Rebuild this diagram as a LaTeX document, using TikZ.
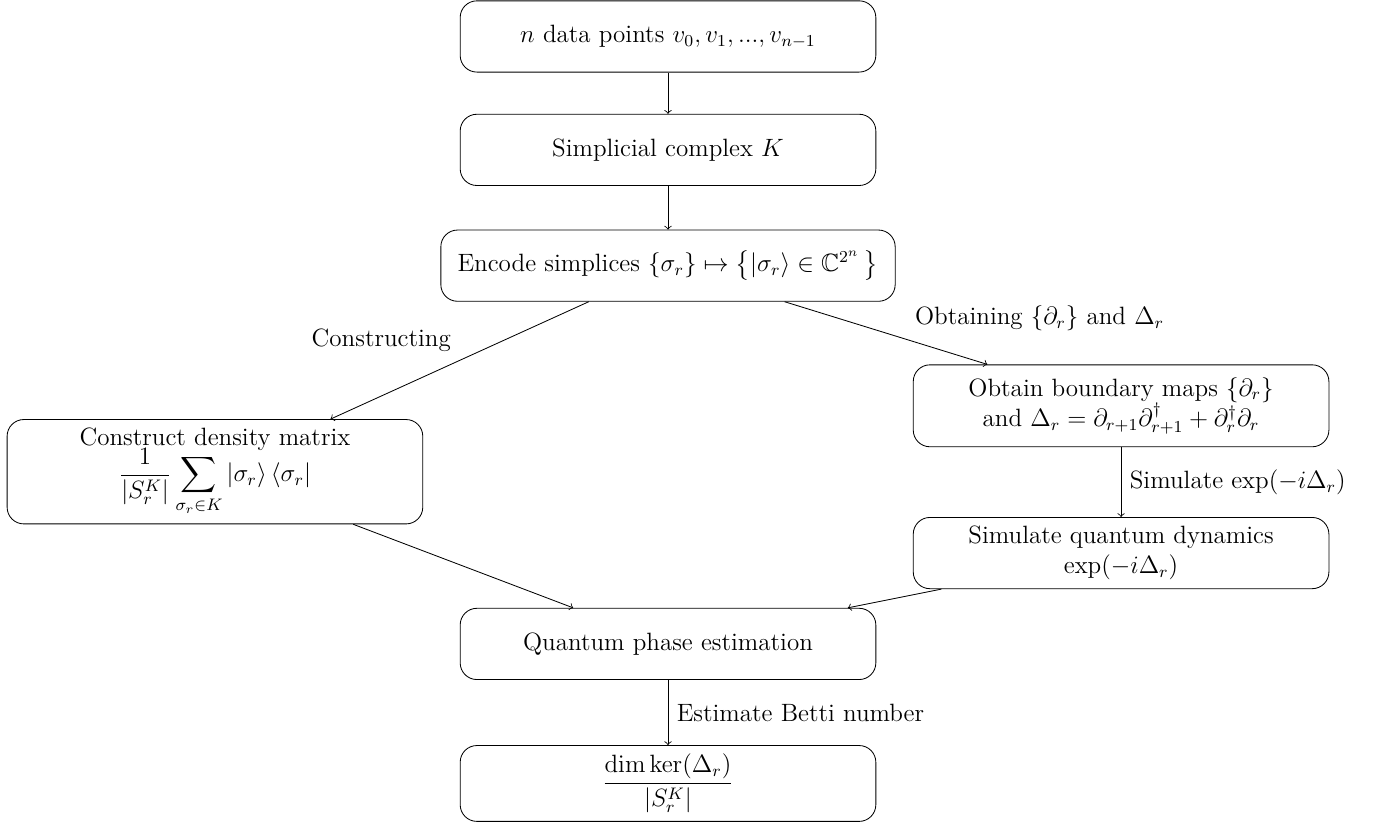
\documentclass[12pt,tikz,border=0pt]{standalone}
\usepackage{amsmath}
\usepackage{amssymb}
\usetikzlibrary{calc}
\tikzset{
    block/.style={draw, rectangle, rounded corners=8pt, minimum width=7cm, minimum height=1.2cm, align=center},
    arr/.style={->}
}

\begin{document}
\begin{tikzpicture}
        \useasboundingbox (-11.25, 0.614) rectangle (12.26, -13.29);
        % --- Nodes ---
        \node [block] (data) at (0, 0) {$n$ data points $v_0, v_1, ..., v_{n-1}$};
        \node [block] (complex) at (0, -1.91) {Simplicial complex $K$};
        \node [block, inner xsep=8pt] (encode) at (0, -3.86) {Encode simplices $\{\sigma_r\} \mapsto \left\{|\sigma_r\rangle \in \mathbb{C}^{2^n}\,\right\}$};
        \node [block] (density) at (-7.63, -7.33) {Construct density matrix\\[-2pt] $\displaystyle \frac{1}{|S_r^K|}\sum_{\sigma_r \in K} |\sigma_r\rangle\,\langle\sigma_r|$};
        \node [block, minimum height=1.38cm] (boundary) at (7.63, -6.22) {Obtain boundary maps $\{\partial_r\}$\\ and $\Delta_r = \partial_{r+1}\partial_{r+1}^{\dagger} + \partial_r^{\dagger}\partial_r$};
        \node [block] (dynamics) at (7.63, -8.70) {Simulate quantum dynamics\\ $\exp(-i\Delta_r)$};
        \node [block] (qpe) at (0, -10.23) {Quantum phase estimation};
        \node [block] (betti) at (0, -12.58) {$\displaystyle \frac{\dim\ker(\Delta_r)}{|S_r^K|}$};

        % --- Main Flow ---
        \draw [arr] (data) -- (complex);
        \draw [arr] (complex) -- (encode);
        \draw [arr] (encode) -- node [above left] {Constructing} (density);
        \draw [arr] (encode) -- node [above right, pos=0.6] {Obtaining $\{\partial_r\}$ and $\Delta_r$} (boundary);
        \draw [arr] (boundary) -- node [right] {Simulate $\exp(-i\Delta_r)$} (dynamics);
        \draw [arr] (density) -- (qpe);
        \draw [arr] (dynamics) -- (qpe);
        \draw [arr] (qpe) -- node [right] {Estimate Betti number} (betti);

    \end{tikzpicture}
\end{document}
